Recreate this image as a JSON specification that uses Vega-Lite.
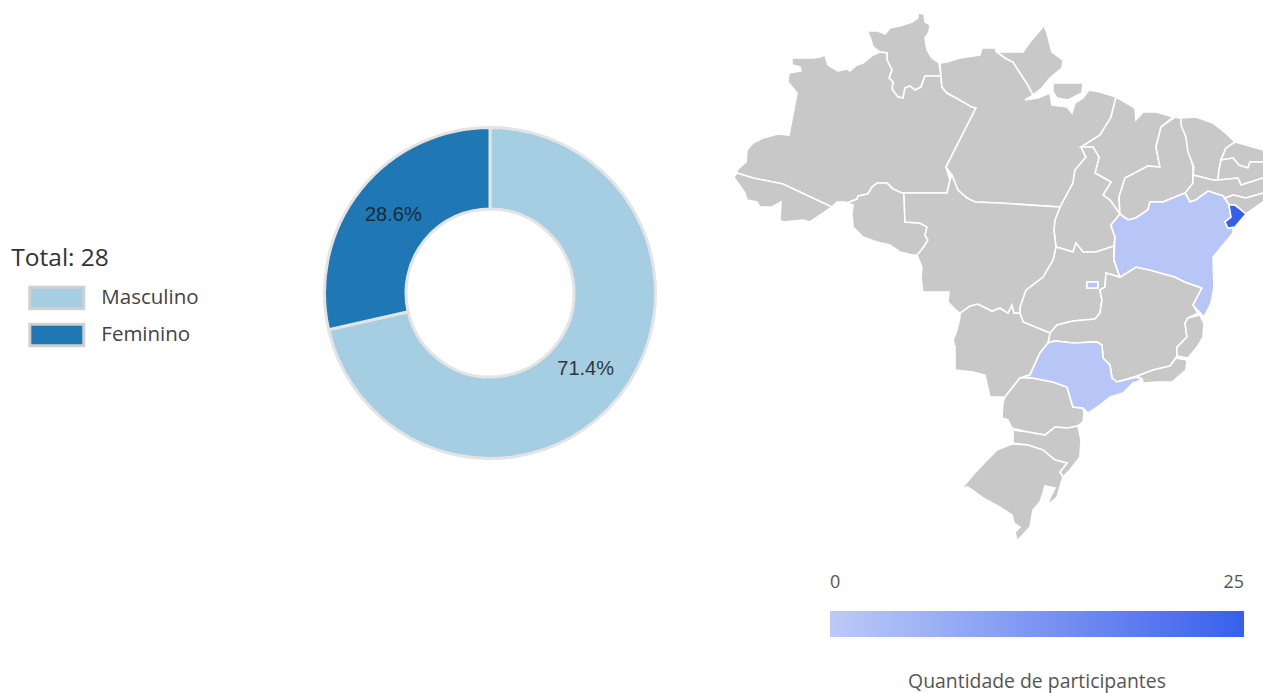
{"$schema":"https://vega.github.io/schema/vega-lite/v6.json","padding":{"left":11,"top":0,"right":0,"bottom":0},"background":"white","spacing":0,"config":{"view":{"stroke":null}},"hconcat":[{"width":480,"height":586,"data":{"values":[{"genero":"Masculino","n":20,"pct":"71.4%","ordem":1},{"genero":"Feminino","n":8,"pct":"28.6%","ordem":2}]},"encoding":{"theta":{"field":"n","type":"quantitative","stack":true},"order":{"field":"ordem","type":"ordinal"}},"layer":[{"mark":{"type":"arc","radius":165.5,"radius2":84,"stroke":"#e4e4e4","strokeWidth":3},"encoding":{"color":{"field":"genero","type":"nominal","scale":{"domain":["Masculino","Feminino"],"range":["#a6cee3","#1f78b4"]},"legend":{"title":"Total: 28","orient":"none","legendX":-238.7,"legendY":247,"titleFont":"Open Sans","titleFontSize":24.5,"titleFontWeight":"normal","titleColor":"#333","titlePadding":8,"labelFont":"Open Sans","labelFontSize":20.5,"labelColor":"#444","labelOffset":16,"symbolType":"M-1,-0.4H1V0.4H-1Z","symbolSize":2916,"symbolStrokeColor":"#d0d0d0","symbolStrokeWidth":3,"symbolOpacity":1,"symbolOffset":17,"clipHeight":37,"rowPadding":0}}}},{"mark":{"type":"text","radius":123,"dy":-1,"dx":-0.5,"font":"Liberation Sans","fontSize":20,"color":"#1a1a1a","opacity":0.85},"encoding":{"text":{"field":"pct","type":"nominal"}}}]},{"width":533,"height":693,"projection":{"type":"identity","reflectY":true,"scale":13.3333,"translate":[991.67,82.67]},"data":{"values":[
{"type":"Feature","properties":{"uf":"RR","n":null},"geometry":{"type":"Polygon","coordinates":[[[-64.4,4.18],[-64.03,3.88],[-63.28,3.88],[-62.75,3.65],[-62.38,4.1],[-61.63,4.25],[-60.73,4.55],[-60.28,4.85],[-60.28,5.23],[-59.83,5.15],[-59.75,4.55],[-59.38,4.33],[-59.45,3.8],[-59.75,3.35],[-59.6,2.45],[-59.23,1.85],[-58.7,1.48],[-58.55,0.5],[-59.75,0.5],[-60.05,-0.33],[-60.5,-0.55],[-60.88,-0.25],[-61.25,-0.4],[-61.4,-1.15],[-61.78,-1.08],[-62.23,-0.48],[-62.15,0.05],[-62.45,0.35],[-62.23,0.95],[-62.6,1.7],[-62.6,2.23],[-63.13,2.3],[-63.65,2.68],[-63.8,3.2],[-64.03,3.8],[-64.4,4.18]]]}},
{"type":"Feature","properties":{"uf":"AM","n":null},"geometry":{"type":"Polygon","coordinates":[[[-73.85,-6.78],[-72.65,-7.15],[-70.4,-7.6],[-66.73,-9.33],[-66.35,-8.95],[-65.75,-8.95],[-65.6,-9.03],[-64.85,-8.73],[-64.78,-8.5],[-64.03,-8.35],[-63.73,-7.83],[-63.35,-7.53],[-62.6,-7.53],[-62.15,-7.98],[-61.48,-8.28],[-61.33,-8.28],[-58.1,-8.28],[-57.88,-7.3],[-58.18,-6.33],[-55.93,-1.9],[-56.23,-1.83],[-57.13,-1.3],[-58.1,-0.78],[-58.48,-0.33],[-58.55,0.5],[-59.75,0.5],[-60.05,-0.33],[-60.5,-0.55],[-60.88,-0.25],[-61.25,-0.4],[-61.4,-1.15],[-61.78,-1.08],[-62.23,-0.48],[-62.15,0.05],[-62.45,0.35],[-62.23,0.95],[-62.6,1.7],[-62.6,2.23],[-63.13,2.3],[-63.65,2.08],[-64.4,1.48],[-64.85,1.33],[-65.38,0.88],[-65.6,1.03],[-66.28,0.88],[-67.03,1.33],[-67.25,2.08],[-67.63,1.93],[-68.15,1.85],[-69.73,1.85],[-69.73,1.33],[-69.13,1.18],[-69.05,0.88],[-69.95,0.73],[-70.03,0.05],[-69.35,-0.78],[-69.95,-3.93],[-70.78,-3.85],[-71.9,-4.15],[-72.65,-4.53],[-73.1,-5.05],[-73.18,-5.95],[-73.85,-6.55],[-73.85,-6.78]]]}},
{"type":"Feature","properties":{"uf":"AC","n":null},"geometry":{"type":"Polygon","coordinates":[[[-73.85,-6.78],[-72.65,-7.15],[-70.4,-7.6],[-66.73,-9.33],[-67.63,-9.93],[-68.38,-10.45],[-68.9,-10.3],[-70.4,-10.45],[-70.63,-10.3],[-70.55,-8.95],[-71.23,-9.33],[-72.13,-9.33],[-72.35,-8.95],[-73.1,-8.8],[-73.25,-8.28],[-73.78,-7.53],[-74.08,-7.08],[-73.85,-6.78]]]}},
{"type":"Feature","properties":{"uf":"RO","n":null},"geometry":{"type":"Polygon","coordinates":[[[-65.6,-9.03],[-64.85,-8.73],[-64.78,-8.5],[-64.03,-8.35],[-63.73,-7.83],[-63.35,-7.53],[-62.6,-7.53],[-62.15,-7.98],[-61.48,-8.28],[-61.33,-8.28],[-61.25,-10.45],[-60.13,-10.53],[-59.6,-10.83],[-59.75,-11.43],[-59.53,-11.8],[-59.9,-12.4],[-60.28,-12.93],[-60.73,-12.93],[-61.63,-12.7],[-62.38,-12.18],[-63.35,-11.95],[-64.4,-11.58],[-65.15,-10.83],[-65.23,-9.78],[-65.15,-9.18],[-65.6,-9.03]]]}},
{"type":"Feature","properties":{"uf":"PA","n":null},"geometry":{"type":"MultiPolygon","coordinates":[[[[-58.63,1.48],[-58.1,1.55],[-57.13,1.85],[-55.63,2.08],[-55.48,2.6],[-54.5,2.6],[-54.35,2.3],[-53.75,1.85],[-53.15,1.55],[-52.63,0.73],[-52.03,-0.18],[-51.65,-0.93],[-52.25,-1.3],[-51.28,-1.15],[-50.38,-0.78],[-50.23,-1.68],[-49.1,-1.83],[-48.73,-2.28],[-48.5,-1.53],[-47.9,-1.15],[-47.45,-0.55],[-46.63,-0.7],[-45.43,-1.08],[-45.8,-2.58],[-46.63,-3.93],[-48.05,-4.83],[-47.68,-5.58],[-48.5,-6.55],[-48.65,-7.53],[-49.63,-9.33],[-54.13,-9.03],[-56,-8.95],[-56.6,-8.65],[-57.28,-8.05],[-57.73,-6.93],[-58.18,-6.33],[-55.93,-1.9],[-56.23,-1.83],[-57.13,-1.3],[-58.1,-0.78],[-58.48,-0.33],[-58.55,0.5],[-58.63,1.48]]],[[[-50.15,-0.03],[-47.9,-0.03],[-47.98,-0.78],[-49.03,-1.3],[-49.85,-1.15],[-50.15,-0.7],[-50.15,-0.03]]]]}},
{"type":"Feature","properties":{"uf":"AP","n":null},"geometry":{"type":"Polygon","coordinates":[[[-54.35,2.3],[-53.6,2.3],[-52.4,2.3],[-51.88,3.05],[-50.98,4.1],[-50.9,4.4],[-50.6,3.73],[-50.23,2.3],[-49.4,1.7],[-49.48,1.1],[-50.38,0.35],[-50.98,-0.4],[-51.65,-0.93],[-52.03,-0.18],[-52.63,0.73],[-53.15,1.55],[-53.75,1.85],[-54.35,2.3]]]}},
{"type":"Feature","properties":{"uf":"MA","n":null},"geometry":{"type":"Polygon","coordinates":[[[-45.43,-1.08],[-44,-1.9],[-43.93,-2.8],[-43.4,-2.2],[-42.43,-2.2],[-41.15,-2.58],[-42.05,-3.33],[-42.43,-4.83],[-42.13,-6.33],[-43.03,-6.25],[-44.75,-7.15],[-45.2,-8.58],[-45.13,-9.85],[-45.88,-8.8],[-46.4,-8.43],[-45.8,-7.45],[-47,-6.78],[-46.7,-5.58],[-47.15,-4.83],[-48.05,-4.83],[-46.63,-3.93],[-45.8,-2.58],[-45.43,-1.08]]]}},
{"type":"Feature","properties":{"uf":"PI","n":null},"geometry":{"type":"Polygon","coordinates":[[[-41,-2.58],[-40.4,-2.73],[-40.18,-4.15],[-39.65,-6.33],[-39.65,-6.93],[-39.65,-7.53],[-40.18,-8.28],[-41.9,-8.95],[-42.88,-8.95],[-43.03,-9.55],[-43.93,-10.15],[-44.53,-10.3],[-45.13,-9.85],[-45.2,-8.58],[-44.75,-7.15],[-43.03,-6.25],[-42.13,-6.33],[-42.43,-4.83],[-42.05,-3.33],[-41,-2.58]]]}},
{"type":"Feature","properties":{"uf":"CE","n":null},"geometry":{"type":"Polygon","coordinates":[[[-40.55,-2.65],[-39.43,-2.58],[-38.15,-3.03],[-37.18,-3.78],[-36.5,-4.45],[-37.18,-4.9],[-37.55,-5.8],[-37.7,-6.55],[-37.78,-7.3],[-38.15,-7.3],[-39.65,-6.93],[-39.58,-6.33],[-40.03,-5.2],[-40.18,-4.08],[-40.55,-3.18],[-40.55,-2.65]]]}},
{"type":"Feature","properties":{"uf":"RN","n":null},"geometry":{"type":"Polygon","coordinates":[[[-36.5,-4.45],[-35.68,-4.68],[-34.4,-5.05],[-33.73,-5.43],[-33.73,-5.95],[-34.4,-5.95],[-35.38,-5.95],[-35.53,-6.4],[-36.2,-6.18],[-36.65,-5.65],[-37.55,-5.8],[-37.18,-4.9],[-36.5,-4.45]]]}},
{"type":"Feature","properties":{"uf":"PB","n":null},"geometry":{"type":"Polygon","coordinates":[[[-37.55,-5.8],[-36.65,-5.65],[-36.2,-6.18],[-35.53,-6.4],[-35.38,-5.95],[-34.4,-5.95],[-33.73,-5.95],[-33.73,-7.15],[-34.4,-7.15],[-36.05,-7.68],[-36.28,-7.15],[-37.78,-7.3],[-37.7,-6.55],[-37.55,-5.8]]]}},
{"type":"Feature","properties":{"uf":"PE","n":null},"geometry":{"type":"Polygon","coordinates":[[[-39.65,-6.93],[-38.15,-7.3],[-37.78,-7.3],[-36.28,-7.15],[-36.05,-7.68],[-34.4,-7.15],[-33.73,-7.15],[-33.73,-8.05],[-34.03,-8.58],[-34.4,-8.28],[-35.68,-8.65],[-36.65,-8.43],[-37.25,-8.65],[-37.4,-8.5],[-38.53,-8.13],[-39.43,-8.8],[-39.88,-8.95],[-40.25,-8.28],[-39.65,-7.53],[-39.65,-6.93]]]}},
{"type":"Feature","properties":{"uf":"AL","n":null},"geometry":{"type":"Polygon","coordinates":[[[-37.25,-8.65],[-36.65,-8.43],[-35.68,-8.65],[-34.4,-8.28],[-34.03,-8.58],[-34.4,-8.95],[-35.68,-9.85],[-36.5,-9.18],[-36.95,-9.18],[-37.25,-8.65]]]}},
{"type":"Feature","properties":{"uf":"TO","n":null},"geometry":{"type":"Polygon","coordinates":[[[-48.05,-4.83],[-47.15,-4.83],[-46.7,-5.58],[-47,-6.78],[-45.8,-7.45],[-46.4,-8.43],[-45.88,-8.8],[-45.13,-9.85],[-45.8,-10.68],[-45.5,-11.58],[-45.58,-12.25],[-46.93,-12.7],[-47.9,-12.7],[-48.43,-12.03],[-48.65,-12.7],[-49.63,-12.4],[-49.93,-12.33],[-50.08,-11.05],[-50,-10.3],[-49.63,-9.33],[-48.65,-7.53],[-48.5,-6.55],[-47.68,-5.58],[-48.05,-4.83]]]}},
{"type":"Feature","properties":{"uf":"GO","n":null},"geometry":{"type":"Polygon","coordinates":[[[-49.93,-12.33],[-49.63,-12.4],[-48.65,-12.7],[-48.43,-12.03],[-47.9,-12.7],[-46.93,-12.7],[-45.58,-12.25],[-45.58,-13.3],[-45.13,-14.58],[-46.18,-14.28],[-46.25,-15.33],[-46.63,-15.55],[-46.48,-16.3],[-46.63,-17.28],[-47,-17.73],[-48.65,-17.88],[-49.85,-18.18],[-50.38,-18.78],[-52.4,-17.95],[-52.63,-17.28],[-52.63,-16.83],[-52.18,-15.55],[-50.9,-14.58],[-50.15,-13.3],[-49.93,-12.33]]]}},
{"type":"Feature","properties":{"uf":"MG","n":null},"geometry":{"type":"Polygon","coordinates":[[[-45.13,-14.58],[-43.93,-13.83],[-42.88,-14.05],[-41,-14.58],[-40.25,-14.95],[-38.98,-15.4],[-39.65,-16.68],[-39.28,-17.28],[-40.03,-17.65],[-40.25,-18.03],[-40.1,-19.08],[-40.85,-19.83],[-40.85,-20.5],[-41.38,-21.25],[-42.65,-21.55],[-43.85,-22],[-45.35,-22.45],[-45.73,-22.15],[-45.88,-21.18],[-46.4,-20.65],[-46.48,-19.68],[-46.85,-19.45],[-48.65,-19.53],[-50,-19.38],[-50.53,-19.53],[-50.38,-18.78],[-49.85,-18.18],[-48.65,-17.88],[-47,-17.73],[-46.63,-17.28],[-46.48,-16.3],[-46.63,-15.55],[-46.25,-15.33],[-46.18,-14.28],[-45.13,-14.58]]]}},
{"type":"Feature","properties":{"uf":"ES","n":null},"geometry":{"type":"Polygon","coordinates":[[[-40.03,-17.65],[-39.13,-17.43],[-38.83,-18.03],[-38.9,-19.08],[-39.35,-19.83],[-40.03,-20.65],[-40.85,-20.5],[-40.85,-19.83],[-40.1,-19.08],[-40.25,-18.03],[-40.03,-17.65]]]}},
{"type":"Feature","properties":{"uf":"RJ","n":null},"geometry":{"type":"Polygon","coordinates":[[[-40.93,-20.65],[-40.1,-20.8],[-40.18,-21.55],[-41.23,-22.45],[-42.35,-22.45],[-43.4,-22.53],[-43.48,-22.23],[-43.85,-22],[-42.65,-21.55],[-41.38,-21.25],[-40.93,-20.65]]]}},
{"type":"Feature","properties":{"uf":"MS","n":null},"geometry":{"type":"Polygon","coordinates":[[[-57.13,-17.28],[-56.38,-16.75],[-55.78,-16.6],[-54.73,-17.13],[-54.13,-16.9],[-53.53,-17.28],[-53.23,-16.68],[-53.08,-17.28],[-52.63,-17.28],[-52.4,-17.95],[-50.38,-18.78],[-50.53,-19.53],[-51.13,-20.28],[-51.88,-21.93],[-52.63,-22.15],[-53.23,-22.9],[-53.75,-23.58],[-54.88,-23.58],[-55.25,-21.93],[-56.15,-21.7],[-57.5,-21.55],[-57.5,-19.83],[-57.65,-19.3],[-57.35,-18.55],[-57.13,-17.58],[-57.13,-17.28]]]}},
{"type":"Feature","properties":{"uf":"MT","n":null},"geometry":{"type":"Polygon","coordinates":[[[-61.33,-8.28],[-58.1,-8.28],[-57.88,-7.3],[-57.73,-6.93],[-57.28,-8.05],[-56.6,-8.65],[-56,-8.95],[-54.13,-9.03],[-49.63,-9.33],[-50,-10.3],[-50.08,-11.05],[-49.93,-12.33],[-50.15,-13.3],[-50.9,-14.58],[-52.18,-15.55],[-52.63,-16.83],[-52.63,-17.28],[-53.08,-17.28],[-53.23,-16.68],[-53.53,-17.28],[-54.13,-16.9],[-54.73,-17.13],[-55.78,-16.6],[-56.38,-16.75],[-57.13,-17.28],[-57.28,-17.2],[-58.03,-16.45],[-57.95,-15.7],[-59.9,-15.7],[-60.05,-14.65],[-59.98,-13.83],[-60.35,-12.93],[-59.9,-12.4],[-59.53,-11.8],[-59.75,-11.43],[-59.6,-10.83],[-60.13,-10.53],[-61.25,-10.45],[-61.33,-8.28]]]}},
{"type":"Feature","properties":{"uf":"PR","n":null},"geometry":{"type":"Polygon","coordinates":[[[-52.63,-22.15],[-51.65,-22.15],[-50.15,-22.45],[-49.1,-22.83],[-48.65,-24.33],[-47.9,-24.4],[-47.83,-24.78],[-47.9,-25.45],[-48.28,-25.75],[-49.03,-25.9],[-50,-25.83],[-50.75,-26.43],[-52.03,-26.2],[-53.23,-25.9],[-53.53,-25.3],[-53.98,-25.15],[-53.9,-23.95],[-53.75,-23.58],[-53.23,-22.9],[-52.63,-22.15]]]}},
{"type":"Feature","properties":{"uf":"SC","n":null},"geometry":{"type":"Polygon","coordinates":[[[-53.15,-26.05],[-52.03,-26.2],[-50.75,-26.43],[-50,-25.83],[-49.03,-25.9],[-48.28,-25.75],[-48.05,-26.8],[-48.13,-28.08],[-48.88,-29.05],[-49.4,-29.58],[-49.63,-29.2],[-49.1,-28.53],[-50,-28.3],[-50.9,-27.55],[-52.03,-27.18],[-53.15,-27.03],[-53.15,-26.05]]]}},
{"type":"Feature","properties":{"uf":"RS","n":null},"geometry":{"type":"Polygon","coordinates":[[[-53.23,-27.1],[-52.03,-27.18],[-50.9,-27.55],[-50,-28.3],[-49.1,-28.53],[-49.63,-29.2],[-49.4,-29.58],[-49.85,-31.08],[-50.53,-31.68],[-50.38,-31.15],[-50,-30.4],[-50.75,-30.25],[-50.9,-30.78],[-51.13,-31.45],[-51.65,-32.05],[-51.88,-33.33],[-52.85,-34.38],[-53,-33.7],[-52.63,-33.33],[-53.08,-33.03],[-53.23,-32.43],[-54.13,-31.83],[-55.4,-31.15],[-56.53,-30.33],[-56.98,-30.4],[-56.15,-29.43],[-55.25,-28.45],[-54.35,-27.55],[-53.23,-27.1]]]}},
{"type":"Feature","properties":{"uf":"BA","n":1},"geometry":{"type":"Polygon","coordinates":[[[-45.13,-9.85],[-44.53,-10.3],[-43.93,-10.15],[-43.03,-9.55],[-42.88,-8.95],[-41.9,-8.95],[-40.25,-8.28],[-39.88,-8.95],[-39.43,-8.8],[-38.53,-8.13],[-37.4,-8.5],[-36.95,-9.18],[-36.8,-10.08],[-37.25,-10.45],[-37.03,-10.9],[-36.65,-10.9],[-36.65,-11.28],[-37.4,-12.18],[-38.15,-13.08],[-38.08,-15.33],[-38.3,-16.53],[-38.83,-17.58],[-39.65,-16.68],[-38.98,-15.4],[-40.25,-14.95],[-41,-14.58],[-42.88,-14.05],[-43.93,-13.83],[-45.13,-14.58],[-45.58,-13.3],[-45.5,-11.58],[-45.8,-10.68],[-45.13,-9.85]]]}},
{"type":"Feature","properties":{"uf":"SP","n":1},"geometry":{"type":"Polygon","coordinates":[[[-52.4,-22.08],[-51.88,-21.93],[-51.13,-20.28],[-50.53,-19.53],[-50,-19.38],[-48.65,-19.53],[-46.85,-19.45],[-46.48,-19.68],[-46.4,-20.65],[-45.88,-21.18],[-45.73,-22.15],[-45.35,-22.45],[-43.85,-22.08],[-43.48,-22.3],[-44.15,-22.53],[-44.9,-23.28],[-45.88,-23.58],[-46.63,-24.18],[-47.53,-24.78],[-47.9,-24.4],[-48.65,-24.33],[-49.1,-22.83],[-50.15,-22.45],[-51.65,-22.15],[-52.4,-22.08]]]}},
{"type":"Feature","properties":{"uf":"DF","n":1},"geometry":{"type":"Polygon","coordinates":[[[-47.6,-14.95],[-46.78,-14.95],[-46.78,-15.4],[-47.6,-15.4],[-47.6,-14.95]]]}},
{"type":"Feature","properties":{"uf":"SE","n":25},"geometry":{"type":"Polygon","coordinates":[[[-36.95,-9.18],[-36.5,-9.18],[-35.68,-9.85],[-36.5,-10.83],[-37.03,-10.9],[-37.25,-10.45],[-36.8,-10.08],[-36.95,-9.18]]]}}
]},"layer":[{"mark":{"type":"geoshape","fill":"#c8c8c8","stroke":"white","strokeWidth":1.6,"clip":true}},{"transform":[{"filter":"datum.properties.n > 0"}],"mark":{"type":"geoshape","stroke":"white","strokeWidth":1.6,"clip":true},"encoding":{"color":{"field":"properties.n","type":"quantitative","scale":{"domain":[0,25],"range":["#bccaf6","#3560eb"]},"legend":{"title":"Quantidade de participantes","orient":"none","direction":"horizontal","legendX":100,"legendY":611,"gradientLength":414,"gradientThickness":26,"gradientStrokeWidth":0,"values":[0,25],"labelOffset":-63,"labelFont":"Open Sans","labelFontSize":18,"labelColor":"#555","titleFont":"Open Sans","titleFontSize":19.4,"titleFontWeight":"normal","titleColor":"#555","titleOrient":"bottom","titleAnchor":"middle","titlePadding":36,"titleLimit":500}}}}]}]}
